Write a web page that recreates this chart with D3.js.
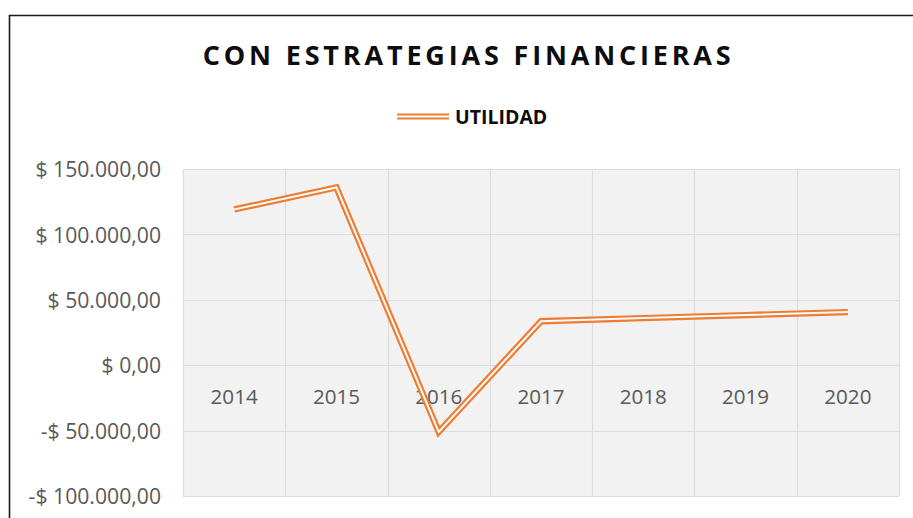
<!DOCTYPE html>
<html>
<head>
<meta charset="utf-8">
<script src="https://cdn.jsdelivr.net/npm/d3@7"></script>
<style>
  html, body { margin: 0; padding: 0; background: #fff; }
  svg { display: block; }
  text { font-family: "Open Sans", sans-serif; }
</style>
</head>
<body>
<svg id="chart" width="913" height="518"></svg>
<script>
// Annual profit with financial strategies
const years = ["2014", "2015", "2016", "2017", "2018", "2019", "2020"];
const utilidad = [119100, 135900, -51000, 33600, 36000, 38300, 40600];
const yTicks = [-100000, -50000, 0, 50000, 100000, 150000];
const seriesName = "UTILIDAD";
const chartTitle = "CON ESTRATEGIAS FINANCIERAS";

const W = 913, H = 518;
const plot = { left: 183, right: 899, top: 169, bottom: 496 };
const orange = "#ED7D31";

const svg = d3.select("#chart");

// Outer chart frame
svg.append("path")
  .attr("d", `M9.5,${H} V15.5 H${W}`)
  .attr("fill", "none")
  .attr("stroke", "#1a1a1a")
  .attr("stroke-width", 1.6);

// Title
svg.append("text")
  .attr("x", 466.7)
  .attr("y", 65)
  .attr("text-anchor", "middle")
  .attr("font-size", 27)
  .attr("font-weight", 700)
  .attr("fill", "#0d0d0d")
  .attr("textLength", 528)
  .attr("lengthAdjust", "spacing")
  .text(chartTitle);

// Legend (double line swatch + label)
const lg = svg.append("g");
lg.append("line").attr("x1", 397).attr("x2", 449).attr("y1", 116.5).attr("y2", 116.5)
  .attr("stroke", orange).attr("stroke-width", 6);
lg.append("line").attr("x1", 397).attr("x2", 449).attr("y1", 116.5).attr("y2", 116.5)
  .attr("stroke", "#fff").attr("stroke-width", 1.8);
lg.append("text").attr("x", 455).attr("y", 123.5)
  .attr("font-size", 19.5).attr("font-weight", 700).attr("fill", "#0d0d0d")
  .text(seriesName);

// Scales
const x = d3.scaleBand().domain(years).range([plot.left, plot.right]).padding(0);
const y = d3.scaleLinear().domain([-100000, 150000]).range([plot.bottom, plot.top]);

const locale = d3.formatLocale({
  decimal: ",", thousands: ".", grouping: [3], currency: ["$ ", ""], minus: "-"
});
const fmt = locale.format("$,.2f");

// Plot area background
svg.append("rect")
  .attr("x", plot.left).attr("y", plot.top)
  .attr("width", plot.right - plot.left).attr("height", plot.bottom - plot.top)
  .attr("fill", "#f2f2f2");

// Gridlines
const grid = svg.append("g").attr("stroke", "#dcdcdc").attr("stroke-width", 1.2);
grid.selectAll("line.h").data(yTicks).join("line")
  .attr("class", "h")
  .attr("x1", plot.left).attr("x2", plot.right)
  .attr("y1", d => Math.round(y(d)) + 0.5).attr("y2", d => Math.round(y(d)) + 0.5);
const vEdges = years.map(d => x(d)).concat([plot.right]);
grid.selectAll("line.v").data(vEdges).join("line")
  .attr("class", "v")
  .attr("x1", d => Math.round(d) + 0.5).attr("x2", d => Math.round(d) + 0.5)
  .attr("y1", plot.top).attr("y2", plot.bottom);

// Y axis labels
const yAxis = d3.axisLeft(y).tickValues(yTicks).tickFormat(fmt).tickSize(0).tickPadding(0);
const yg = svg.append("g").attr("transform", `translate(161,0)`).call(yAxis);
yg.select(".domain").remove();
yg.selectAll("text")
  .attr("font-family", "'Open Sans', sans-serif")
  .attr("font-size", 21.2)
  .attr("fill", "#595959")
  .attr("dy", "0.36em");

// X axis labels, placed just below the zero line
const xAxis = d3.axisBottom(x).tickSize(0).tickPadding(0);
const xg = svg.append("g").attr("transform", `translate(0,${y(0)})`).call(xAxis);
xg.select(".domain").remove();
xg.selectAll("text")
  .attr("font-family", "'Open Sans', sans-serif")
  .attr("font-size", 20.6)
  .attr("fill", "#595959")
  .attr("dy", 0)
  .attr("y", 39);

// Series: double compound line
const line = d3.line()
  .x((d, i) => x(years[i]) + x.bandwidth() / 2)
  .y(d => y(d));

svg.append("path")
  .datum(utilidad)
  .attr("d", line)
  .attr("fill", "none")
  .attr("stroke", orange)
  .attr("stroke-width", 6.4)
  .attr("stroke-linejoin", "miter")
  .attr("stroke-miterlimit", 10);
svg.append("path")
  .datum(utilidad)
  .attr("d", line)
  .attr("fill", "none")
  .attr("stroke", "#fbfbfb")
  .attr("stroke-width", 2)
  .attr("stroke-linejoin", "miter")
  .attr("stroke-miterlimit", 10);
</script>
</body>
</html>
